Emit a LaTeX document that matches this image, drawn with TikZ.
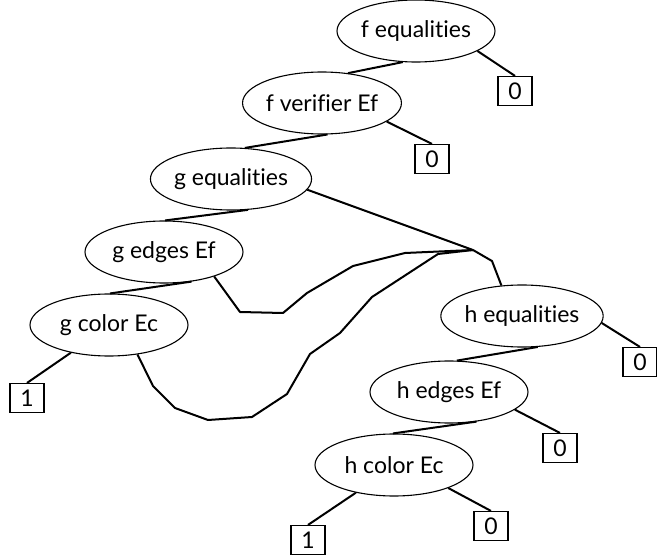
\documentclass[tikz,border=0pt]{standalone}
\usepackage{fontspec}
\setmainfont{Lato}[Ligatures=NoCommon]
\usetikzlibrary{shapes.geometric}
\tikzstyle{Var} = [
ellipse, draw,
line width=1.1pt,
minimum width=158pt, minimum height=62pt,
inner sep=0pt,
font=\fontsize{23}{27}\selectfont]
\tikzstyle{Leaf} = [
rectangle, draw,
line width=1.1pt,
minimum width=34pt, minimum height=29pt,
inner sep=0pt,
font=\fontsize{23}{27}\selectfont]
\tikzstyle{Edge} = [line width=2pt, line join=round]

\begin{document}
\begin{tikzpicture}[x=1pt, y=-1pt]
    \useasboundingbox (0,0) rectangle (657,559);
    \node[Var] (1) at (416,31) {f equalities};
    \node[Leaf] (2) at (515,91) {0};
    \node[Var] (3) at (322,103) {f verifier Ef};
    \node[Leaf] (4) at (432,159) {0};
    \node[Var] (5) at (231,179) {g equalities};
    \node[Var] (6) at (164,252) {g edges Ef};
    \node[Var] (7) at (109,325) {g color Ec};
    \node[Leaf] (8) at (27,398) {1};
    \node[Var] (9) at (522,316) {h equalities};
    \node[Leaf] (10) at (640,362) {0};
    \node[Var] (11) at (449,392) {h edges Ef};
    \node[Leaf] (12) at (560,448) {0};
    \node[Var] (13) at (394,465) {h color Ec};
    \node[Leaf] (14) at (308,540) {1};
    \node[Leaf] (15) at (491,526) {0};
    \coordinate (m1) at (473,250);
    \coordinate (m2) at (492,261);
    \draw[Edge] (1.-113)--(3.49);
    \draw[Edge] (1.-18)--(2.north);
    \draw[Edge] (3.-80)--(5.66);
    \draw[Edge] (3.-16)--(4.north);
    \draw[Edge] (5.-61)--(6.88);
    \draw[Edge] (5.-8.5)--(m1)--(m2)--(9.124);
    \draw[Edge] (6.-47)--(7.88);
    \draw[Edge] (6.-26)--(240,312)--(283,313)--(307,293)--(353,266)
        --(405,253)--(m1);
    \draw[Edge] (7.-144)--(8.north);
    \draw[Edge] (7.-46)--(153,386)--(175,408)--(208,420)--(252,417)
        --(287,394)--(310,354)--(340,333)--(372,297)--(438,254)--(m1);
    \draw[Edge] (9.-63)--(11.76);
    \draw[Edge] (9.-5)--(10.north);
    \draw[Edge] (11.-47)--(13.92);
    \draw[Edge] (11.-15)--(12.north);
    \draw[Edge] (13.-144)--(14.north);
    \draw[Edge] (13.-23.5)--(15.north);
\end{tikzpicture}
\end{document}
